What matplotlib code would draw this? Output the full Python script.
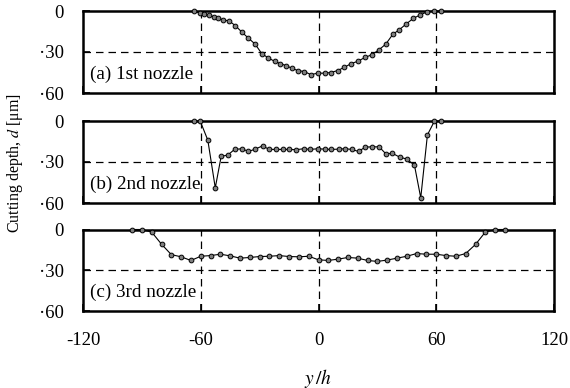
import matplotlib
matplotlib.use("Agg")
import matplotlib.pyplot as plt

plt.rcParams['font.family'] = ['Liberation Serif', 'DejaVu Serif']
plt.rcParams['mathtext.fontset'] = 'stix'
plt.rcParams['axes.unicode_minus'] = False

# (a) 1st nozzle
x_a = [-63.2, -60.3, -58.2, -56.0, -53.5, -51.3, -48.9, -45.5, -42.4, -39.0,
       -35.7, -32.3, -28.9, -25.5, -22.4, -19.5, -16.6, -13.6, -10.5, -7.3,
       -3.9, -0.3, 3.1, 6.3, 9.7, 13.2, 16.6, 20.0, 23.8, 27.2,
       30.9, 34.3, 37.9, 41.1, 44.5, 48.4, 51.8, 55.5, 59.1, 62.5]
d_a = [0.0, 1.7, 2.2, 3.1, 4.1, 4.8, 6.5, 7.3, 10.7, 15.5,
       19.9, 24.2, 31.2, 34.4, 36.8, 38.5, 39.9, 41.9, 43.6, 44.3,
       46.5, 45.5, 45.5, 45.0, 43.6, 41.2, 38.5, 36.8, 33.9, 32.0,
       28.3, 24.2, 17.0, 13.8, 9.7, 5.3, 2.9, 0.5, 0.0, 0.0]

# (b) 2nd nozzle
x_b = [-63.2, -60.3, -56.4, -52.6, -49.6, -46.2, -42.8, -39.0, -35.7, -32.3,
       -28.5, -25.1, -21.7, -18.3, -14.9, -11.4, -7.6, -4.2, -0.3, 3.1,
       6.5, 10.2, 13.6, 17.0, 20.4, 23.8, 27.5, 30.9, 34.3, 37.7,
       41.6, 45.0, 48.9, 52.1, 55.5, 59.1, 62.5]
d_b = [0.0, 0.0, 14.0, 48.9, 25.9, 24.9, 20.8, 20.3, 22.3, 20.6,
       18.2, 20.8, 20.8, 20.8, 20.8, 21.0, 20.3, 20.8, 20.3, 20.6,
       20.8, 20.6, 20.3, 20.8, 22.3, 19.1, 18.9, 18.9, 24.0, 23.7,
       26.6, 27.8, 32.4, 56.2, 10.2, 0.0, 0.0]

# (c) 3rd nozzle
x_c = [-95, -90, -85, -80, -75, -70, -65, -60, -55, -50,
       -45, -40, -35, -30, -25, -20, -15, -10, -5, 0,
       5, 10, 15, 20, 25, 30, 35, 40, 45, 50,
       55, 60, 65, 70, 75, 80, 85, 90, 95]
d_c = [0.0, 0.0, 1.9, 10.8, 18.5, 20.1, 22.8, 19.7, 19.2, 18.2,
       19.4, 21.1, 20.6, 19.9, 19.7, 19.2, 19.9, 20.1, 19.7, 22.3,
       22.8, 21.8, 20.6, 21.1, 22.8, 23.5, 22.5, 21.1, 19.7, 17.7,
       18.2, 18.2, 19.2, 19.7, 17.7, 11.0, 1.9, 0.0, 0.0]

panel_labels = ['(a) 1st nozzle', '(b) 2nd nozzle', '(c) 3rd nozzle']
x_ticks = [-120, -60, 0, 60, 120]
x_tick_labels = ['-120', '-60', '0', '60', '120']
y_ticks = [0, 30, 60]
y_tick_labels = ['0', '\u00b730', '\u00b760']

fig = plt.figure(figsize=(5.7, 3.88), dpi=100)
left = 83 / 570
width = (554 - 83) / 570
tops = [11, 121, 229.5]
bottoms = [93, 203, 311]

series = [(x_a, d_a), (x_b, d_b), (x_c, d_c)]
for i, (xs, ds) in enumerate(series):
    b = 1 - bottoms[i] / 388
    h = (bottoms[i] - tops[i]) / 388
    ax = fig.add_axes([left, b, width, h])
    for gx in [-60, 0, 60]:
        ax.axvline(gx, color='k', lw=0.9, ls=(0, (6, 4)), zorder=1)
    ax.axhline(30, color='k', lw=0.9, ls=(0, (6, 4)), zorder=1)
    ax.plot(xs, ds, '-o', color='k', lw=0.8, ms=3.4, mfc='#808080',
            mec='k', mew=0.7, zorder=3, clip_on=False)
    ax.set_xlim(-120, 120)
    ax.set_ylim(60, 0)
    ax.set_xticks(x_ticks)
    ax.set_yticks(y_ticks)
    ax.set_yticklabels(y_tick_labels)
    if i == 2:
        ax.set_xticklabels(x_tick_labels)
    else:
        ax.set_xticklabels([])
    ax.tick_params(direction='in', length=5, width=1.2, labelsize=13.5)
    ax.tick_params(axis='y', pad=14)
    ax.tick_params(axis='x', pad=15)
    for sp in ax.spines.values():
        sp.set_linewidth(1.8)
    ax.text(-116.5, 46, panel_labels[i], fontsize=13.8, va='center', ha='left')

fig.text(0.027, 0.58, 'Cutting depth, $d$ [\u03bcm]', rotation=90,
         ha='center', va='center', fontsize=11.5)
fig.text(318 / 570, 1 - 378 / 388, r'$y\,/h$', ha='center', va='center',
         fontsize=14)

fig.savefig('out.png', dpi=100)
